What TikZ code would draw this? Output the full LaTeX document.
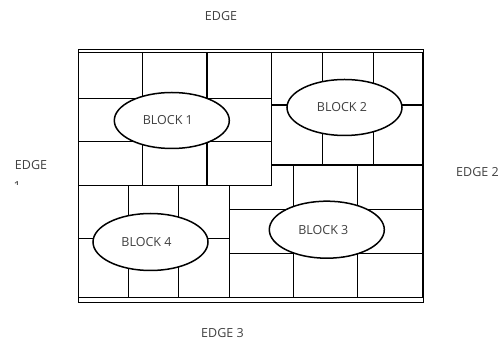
\documentclass[tikz,border=0pt]{standalone}
\usepackage{fontspec}
\setmainfont{Open Sans}
\usetikzlibrary{shapes.geometric}
\begin{document}
\begin{tikzpicture}[x=1pt,y=-1pt,
  grid/.style={line width=1.1pt, black},
  rim/.style={line width=1.5pt, black},
  blockoval/.style={ellipse, draw, line width=1.5pt, fill=white, inner sep=0pt,
    minimum width=115pt, minimum height=56pt,
    font=\fontsize{12.5}{15}\selectfont, text=black!75},
  edgelabel/.style={anchor=base, inner sep=0pt,
    font=\fontsize{12.5}{15}\selectfont, text=black!75}]
\useasboundingbox (0,0) rectangle (501,347);
% Block 1
\draw[grid] (78.5,98.3) -- (271.7,98.3) (78.5,141.7) -- (271.7,141.7)
  (142.3,52.5) -- (142.3,185.5) (207,52.5) -- (207,185.5);
\draw[rim] (78.5,52.5) rectangle (271.7,185.5);
% Block 2
\draw[grid] (271.7,105) -- (423,105)
  (322.3,52.5) -- (322.3,165) (373.3,52.5) -- (373.3,165);
\draw[rim] (271.7,52.5) rectangle (423,165);
% Block 3
\draw[grid] (229.5,209.3) -- (423,209.3) (229.5,253.3) -- (423,253.3)
  (293.3,165) -- (293.3,297.5) (357.5,165) -- (357.5,297.5);
\draw[rim] (271.7,165) -- (423,165) -- (423,297.5) -- (229.5,297.5)
  -- (229.5,185.5) -- (271.7,185.5);
% Block 4
\draw[grid] (78.5,238.3) -- (229.5,238.3)
  (128.3,185.5) -- (128.3,297.5) (178.3,185.5) -- (178.3,297.5);
\draw[rim] (78.5,185.5) rectangle (229.5,297.5);
% Frame
\draw[rim] (78.5,49.3) -- (423.5,49.3) -- (423.5,302.7) -- (78.5,302.7) -- cycle;
% Ovals
\node[blockoval] (b1) at (171.8,120.5) {BLOCK 1\hspace*{8pt}};
\node[blockoval] (b2) at (344.5,107.5) {BLOCK 2\hspace*{5pt}};
\node[blockoval, minimum height=57pt] (b3) at (326.8,229.7) {BLOCK 3\hspace*{7pt}};
\node[blockoval, minimum height=57pt] (b4) at (150.5,242) {BLOCK 4\hspace*{8pt}};
% Edge labels
\node[edgelabel] (e0) at (221,21) {EDGE};
\node[edgelabel] (e1) at (31,170) {EDGE};
\begin{scope}
  \clip (0,178) rectangle (60,184.2);
  \node[anchor=north west, inner sep=0pt, font=\fontsize{12.5}{15}\selectfont, text=black!75] (e1b) at (13.5,181) {1};
\end{scope}
\node[edgelabel] (e2) at (477.5,176.7) {EDGE 2};
\node[edgelabel] (e3) at (222.5,338) {EDGE 3};
\end{tikzpicture}
\end{document}
